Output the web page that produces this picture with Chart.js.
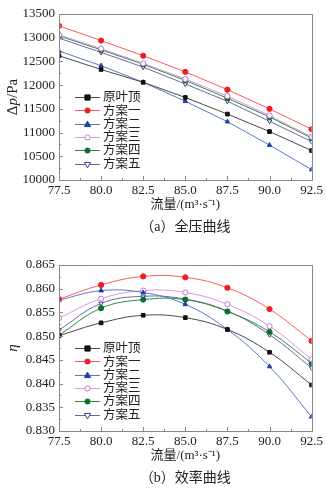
<!DOCTYPE html>
<html>
<head>
<meta charset="utf-8">
<script src="https://cdn.jsdelivr.net/npm/chart.js"></script>
<style>
  body { margin: 0; background: #fff; width: 326px; height: 488px; overflow: hidden; position: relative; }
  canvas { position: absolute; left: 0; }
  #chartTop { top: 0; }
  #chartBottom { top: 251px; }
</style>
</head>
<body>
<canvas id="chartTop" width="326" height="237"></canvas>
<canvas id="chartBottom" width="326" height="237"></canvas>
<script>
// 流量 (m3/s)
const flow = [77.5, 80.0, 82.5, 85.0, 87.5, 90.0, 92.5];
const seriesNames = ['原叶顶', '方案一', '方案二', '方案三', '方案四', '方案五'];

// (a) 全压 Δp / Pa
const dpYuan = [12620, 12330, 12060, 11740, 11390, 11020, 10620];
const dpFa1  = [13250, 12940, 12620, 12280, 11905, 11500, 11070];
const dpFa2  = [12720, 12410, 12060, 11660, 11230, 10735, 10220];
const dpFa3  = [13060, 12770, 12460, 12130, 11770, 11360, 10910];
const dpFa4  = [13040, 12745, 12440, 12100, 11725, 11330, 10885];
const dpFa5  = [12990, 12690, 12380, 12025, 11660, 11240, 10810];

// (b) 效率 η
const effYuan = [0.8501, 0.8528, 0.8544, 0.8539, 0.8514, 0.8466, 0.8397];
const effFa1  = [0.8578, 0.8608, 0.8626, 0.8624, 0.8602, 0.8557, 0.8490];
const effFa2  = [0.8576, 0.8596, 0.8592, 0.8567, 0.8514, 0.8436, 0.8330];
const effFa3  = [0.8538, 0.8579, 0.8596, 0.8592, 0.8567, 0.8521, 0.8451];
const effFa4  = [0.8502, 0.8559, 0.8577, 0.8577, 0.8552, 0.8509, 0.8443];
const effFa5  = [0.8513, 0.8569, 0.8584, 0.8578, 0.8553, 0.8503, 0.8433];

// tick labels
const xTicks = [77.5, 80.0, 82.5, 85.0, 87.5, 90.0, 92.5];
const dpTicks = [10000, 10500, 11000, 11500, 12000, 12500, 13000, 13500];
const effTicks = [0.830, 0.835, 0.840, 0.845, 0.850, 0.855, 0.860, 0.865];

// looks of each series
const styles = [
  { line: '#4a4a4a', color: '#111111', fill: '#111111', shape: 'rect' },
  { line: '#ff5a5a', color: '#ee1c24', fill: '#ee1c24', shape: 'circle' },
  { line: '#5a78c8', color: '#1f3fa8', fill: '#1f3fa8', shape: 'triangle' },
  { line: '#dc96dc', color: '#cc70cc', fill: '#ffffff', shape: 'circle' },
  { line: '#2e8a44', color: '#0f6e2e', fill: '#0f6e2e', shape: 'circle' },
  { line: '#6868a8', color: '#3e3e8a', fill: '#ffffff', shape: 'triangle', rot: 180 }
];

const serif = "'Liberation Serif', 'Noto Sans CJK SC', serif";
const textColor = '#222';
const axisColor = '#888';
const markR = 2.6;

function drawMarker(ctx, s, x, y) {
  const r = markR;
  ctx.save();
  ctx.fillStyle = s.fill;
  ctx.strokeStyle = s.color;
  ctx.lineWidth = 1;
  ctx.beginPath();
  if (s.shape === 'rect') {
    ctx.rect(x - r, y - r, 2 * r, 2 * r);
  } else if (s.shape === 'circle') {
    ctx.arc(x, y, r, 0, Math.PI * 2);
  } else {
    const d = s.rot ? -1 : 1;
    ctx.moveTo(x, y - d * r * 1.3);
    ctx.lineTo(x + r * 1.2, y + d * r * 0.8);
    ctx.lineTo(x - r * 1.2, y + d * r * 0.8);
    ctx.closePath();
  }
  ctx.fill();
  ctx.stroke();
  ctx.restore();
}

// frame, inward ticks, titles, caption and legend
const decorPlugin = {
  id: 'decor',
  afterDraw: (chart) => {
    const { ctx, chartArea: { top, left, right, bottom }, scales: { x, y } } = chart;
    const o = chart.options.plugins.decor;
    ctx.save();
    ctx.strokeStyle = axisColor;
    ctx.lineWidth = 1;
    ctx.strokeRect(Math.round(left) + 0.5, Math.round(top) + 0.5, Math.round(right - left), Math.round(bottom - top));

    // ticks pointing inside
    ctx.beginPath();
    const xt = o.xTicks, yt = o.yTicks;
    xt.forEach((v, i) => {
      const px = Math.round(x.getPixelForValue(v)) + 0.5;
      ctx.moveTo(px, bottom); ctx.lineTo(px, bottom - 4);
      if (i < xt.length - 1) {
        const pm = Math.round(x.getPixelForValue((v + xt[i + 1]) / 2)) + 0.5;
        ctx.moveTo(pm, bottom); ctx.lineTo(pm, bottom - 2);
      }
    });
    yt.forEach((v, i) => {
      const py = Math.round(y.getPixelForValue(v)) + 0.5;
      ctx.moveTo(left, py); ctx.lineTo(left + 4, py);
      if (i < yt.length - 1) {
        const pm = Math.round(y.getPixelForValue((v + yt[i + 1]) / 2)) + 0.5;
        ctx.moveTo(left, pm); ctx.lineTo(left + 2, pm);
      }
    });
    ctx.stroke();

    // x title + caption
    ctx.fillStyle = textColor;
    ctx.textAlign = 'center';
    ctx.textBaseline = 'middle';
    ctx.font = '13px ' + serif;
    ctx.fillText('流量/(m³·s⁻¹)', (left + right) / 2, bottom + 25);
    ctx.font = '14px ' + serif;
    ctx.fillText(o.caption, (left + right) / 2, bottom + 47);

    // y title (rotated, mixed italic)
    ctx.save();
    ctx.translate(13, (top + bottom) / 2);
    ctx.rotate(-Math.PI / 2);
    ctx.textAlign = 'left';
    let total = 0;
    o.yTitle.forEach(p => { ctx.font = p[1] + '15px ' + serif; total += ctx.measureText(p[0]).width; });
    let cx = -total / 2;
    o.yTitle.forEach(p => {
      ctx.font = p[1] + '15px ' + serif;
      ctx.fillText(p[0], cx, 0);
      cx += ctx.measureText(p[0]).width;
    });
    ctx.restore();

    // legend
    ctx.font = '12.5px ' + serif;
    ctx.textAlign = 'left';
    chart.data.datasets.forEach((ds, i) => {
      const s = styles[i];
      const ly = top + 83 + i * 13.3;
      ctx.strokeStyle = s.line;
      ctx.beginPath();
      ctx.moveTo(75, Math.round(ly) + 0.5);
      ctx.lineTo(100, Math.round(ly) + 0.5);
      ctx.stroke();
      drawMarker(ctx, s, 87.5, Math.round(ly) + 0.5);
      ctx.fillStyle = textColor;
      ctx.fillText(ds.label, 103, ly + 1);
    });
    ctx.restore();
  }
};

function makeDatasets(seriesList, tension) {
  return seriesList.map((vals, i) => {
    const s = styles[i];
    return {
      label: seriesNames[i],
      data: flow.map((f, j) => ({ x: f, y: vals[j] })),
      borderColor: s.line,
      borderWidth: 1,
      backgroundColor: s.fill,
      pointStyle: s.shape,
      pointRotation: s.rot || 0,
      pointRadius: markR,
      pointBackgroundColor: s.fill,
      pointBorderColor: s.color,
      pointBorderWidth: 1,
      tension: tension,
      fill: false
    };
  });
}

function makeChart(id, seriesList, yTicks, yMin, yMax, fmt, tension, caption, yTitle) {
  const ctx = document.getElementById(id).getContext('2d');
  return new Chart(ctx, {
    type: 'line',
    data: { datasets: makeDatasets(seriesList, tension) },
    options: {
      responsive: false,
      animation: false,
      layout: { padding: { top: 14, right: 13, left: 0, bottom: 0 } },
      scales: {
        x: {
          type: 'linear',
          min: 77.5,
          max: 92.5,
          afterBuildTicks: (sc) => { sc.ticks = xTicks.map(v => ({ value: v })); },
          afterFit: (sc) => { sc.height = 57; },
          grid: { display: false, drawTicks: false },
          border: { display: false },
          ticks: {
            padding: 3,
            maxRotation: 0,
            color: textColor,
            font: { size: 13, family: serif },
            callback: (v) => Number(v).toFixed(1)
          }
        },
        y: {
          min: yMin,
          max: yMax,
          afterBuildTicks: (sc) => { sc.ticks = yTicks.map(v => ({ value: v })); },
          afterFit: (sc) => { sc.width = 59; },
          grid: { display: false, drawTicks: false },
          border: { display: false },
          ticks: {
            padding: 4,
            color: textColor,
            font: { size: 13, family: serif },
            callback: fmt
          }
        }
      },
      plugins: {
        legend: { display: false },
        tooltip: { enabled: false },
        decor: { xTicks: xTicks, yTicks: yTicks, caption: caption, yTitle: yTitle }
      }
    },
    plugins: [decorPlugin]
  });
}

makeChart('chartTop',
  [dpYuan, dpFa1, dpFa2, dpFa3, dpFa4, dpFa5],
  dpTicks, 10000, 13500, (v) => String(v), 0,
  '（a）全压曲线', [['Δ', ''], ['p', 'italic '], ['/Pa', '']]);

makeChart('chartBottom',
  [effYuan, effFa1, effFa2, effFa3, effFa4, effFa5],
  effTicks, 0.830, 0.865, (v) => Number(v).toFixed(3), 0.4,
  '（b）效率曲线', [['η', 'italic ']]);
</script>
</body>
</html>
